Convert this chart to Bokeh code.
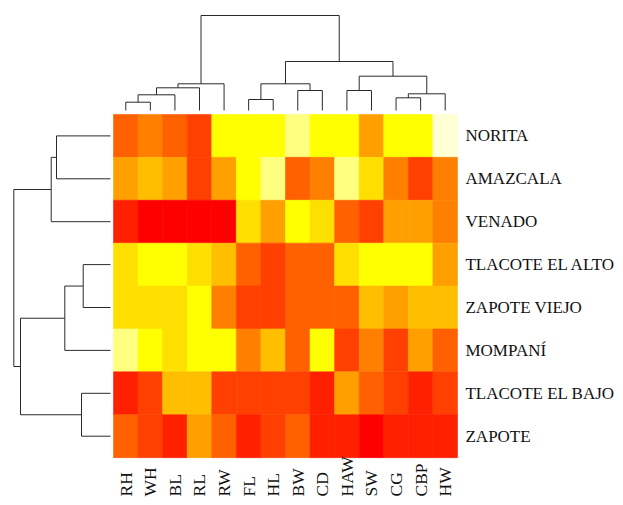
import math
from bokeh.plotting import figure
from bokeh.models import Range1d, LinearColorMapper, ColumnDataSource
from bokeh.core.properties import value
from bokeh.embed import file_html
from bokeh.resources import INLINE

# ---------------- data ----------------
columns = ["RH", "WH", "BL", "RL", "RW", "FL", "HL", "BW", "CD", "HAW", "SW", "CG", "CBP", "HW"]
rows = ["NORITA", "AMAZCALA", "VENADO", "TLACOTE EL ALTO", "ZAPOTE VIEJO",
        "MOMPANÍ", "TLACOTE EL BAJO", "ZAPOTE"]

# colour level (0 = lowest/red ... 11 = highest/pale yellow) read per cell
norita          = [3, 4, 3, 2, 8, 8, 8, 10, 8, 8, 5, 8, 8, 11]
amazcala        = [5, 6, 5, 2, 5, 8, 10, 3, 4, 10, 7, 4, 2, 4]
venado          = [1, 0, 0, 0, 0, 7, 5, 8, 7, 3, 2, 5, 5, 4]
tlacote_alto    = [7, 8, 8, 7, 6, 3, 2, 3, 3, 7, 8, 8, 8, 5]
zapote_viejo    = [7, 7, 7, 8, 4, 2, 2, 3, 3, 3, 6, 5, 6, 6]
mompani         = [10, 8, 7, 8, 8, 4, 6, 3, 8, 2, 4, 2, 5, 3]
tlacote_bajo    = [1, 2, 6, 6, 2, 2, 2, 2, 1, 5, 3, 2, 1, 2]
zapote          = [3, 2, 1, 5, 3, 1, 2, 3, 1, 1, 0, 1, 1, 1]
matrix = [norita, amazcala, venado, tlacote_alto, zapote_viejo, mompani, tlacote_bajo, zapote]

# column dendrogram merges (negative = leaf index+1, positive = earlier merge number)
col_merge_a = [-1, 1, 2, 3, -6, -8, 5, -10, -12, 9, 8, 7, 4]
col_merge_b = [-2, -3, -4, -5, -7, -9, 6, -11, -13, -14, 10, 11, 12]
col_merge_h = [8.3, 15.7, 22.7, 26.7, 11.0, 20.0, 26.7, 20.0, 12.7, 16.7, 34.3, 49.0, 95.0]

# row dendrogram merges
row_merge_a = [-1, 1, -4, 3, -7, 4, 2]
row_merge_b = [-2, -3, -5, -6, -8, 5, 6]
row_merge_h = [54.0, 59.3, 27.3, 45.7, 29.0, 90.0, 96.7]

heat_colors = ["#FF0000", "#FF2000", "#FF4000", "#FF6000", "#FF8000", "#FF9F00",
               "#FFBF00", "#FFDF00", "#FFFF00", "#FFFF2A", "#FFFF80", "#FFFFD5"]

# ---------------- layout ----------------
CELL_W = 24.57   # px per column unit
CELL_H = 42.9    # px per row unit
W, H = 615, 497
X0, Y0 = 113.0, 135.4   # pixel of left heatmap edge / first row centre
nrow = len(rows)

p = figure(width=W, height=H,
           x_range=Range1d((0 - X0) / CELL_W - 0.5, (W - X0) / CELL_W - 0.5),
           y_range=Range1d(nrow - 1 - (H - Y0) / CELL_H, nrow - 1 + Y0 / CELL_H),
           output_backend="svg", toolbar_location=None, min_border=0,
           x_axis_location=None, y_axis_location=None)
p.grid.visible = False
p.outline_line_color = None
p.background_fill_color = "white"
p.border_fill_color = "white"

# heatmap cells
xs, ys, vs = [], [], []
for r, rowvals in enumerate(matrix):
    for c, v in enumerate(rowvals):
        xs.append(c)
        ys.append(nrow - 1 - r)
        vs.append(v)
mapper = LinearColorMapper(palette=heat_colors, low=-0.5, high=11.5)
src = ColumnDataSource(dict(x=xs, y=ys, v=vs))
p.rect(x="x", y="y", width=1, height=1, source=src,
       fill_color={"field": "v", "transform": mapper},
       line_color={"field": "v", "transform": mapper}, line_width=0.6)


def dendro(ma, mb, mh):
    pos, hgt = {}, {}
    segs = []

    def get(ref):
        if ref < 0:
            return float(-ref - 1), 0.0
        return pos[ref], hgt[ref]

    for k, (a, b, h) in enumerate(zip(ma, mb, mh), start=1):
        pa, ha = get(a)
        pb, hb = get(b)
        segs.append((pa, ha, pa, h))
        segs.append((pb, hb, pb, h))
        segs.append((pa, h, pb, h))
        pos[k] = (pa + pb) / 2
        hgt[k] = h
    return segs


line_col = "#2a2a2a"

# top dendrogram (columns)
top_base = nrow - 1 + (Y0 - 110) / CELL_H
segs = dendro(col_merge_a, col_merge_b, col_merge_h)
p.segment(x0=[s[0] for s in segs], y0=[top_base + s[1] / CELL_H for s in segs],
          x1=[s[2] for s in segs], y1=[top_base + s[3] / CELL_H for s in segs],
          line_color=line_col, line_width=1)

# left dendrogram (rows)
left_base = -0.5 - 3 / CELL_W
segs = dendro(row_merge_a, row_merge_b, row_merge_h)
p.segment(x0=[left_base - s[1] / CELL_W for s in segs], y0=[nrow - 1 - s[0] for s in segs],
          x1=[left_base - s[3] / CELL_W for s in segs], y1=[nrow - 1 - s[2] for s in segs],
          line_color=line_col, line_width=1)

# row labels (right)
p.text(x=[len(columns) - 0.5 + 8 / CELL_W] * nrow, y=[nrow - 1 - r for r in range(nrow)],
       text=rows, text_align="left", text_baseline="middle",
       text_font=value("Liberation Serif"), text_font_size="17px", text_color="#111111")

# column labels (bottom, rotated)
p.text(x=list(range(len(columns))), y=[nrow - 1 - (496 - Y0) / CELL_H] * len(columns), text=columns,
       angle=math.pi / 2, text_align="left", text_baseline="middle",
       text_font=value("Liberation Serif"), text_font_size="17.5px", text_color="#111111")

open("out.html", "w").write(file_html(p, INLINE))
